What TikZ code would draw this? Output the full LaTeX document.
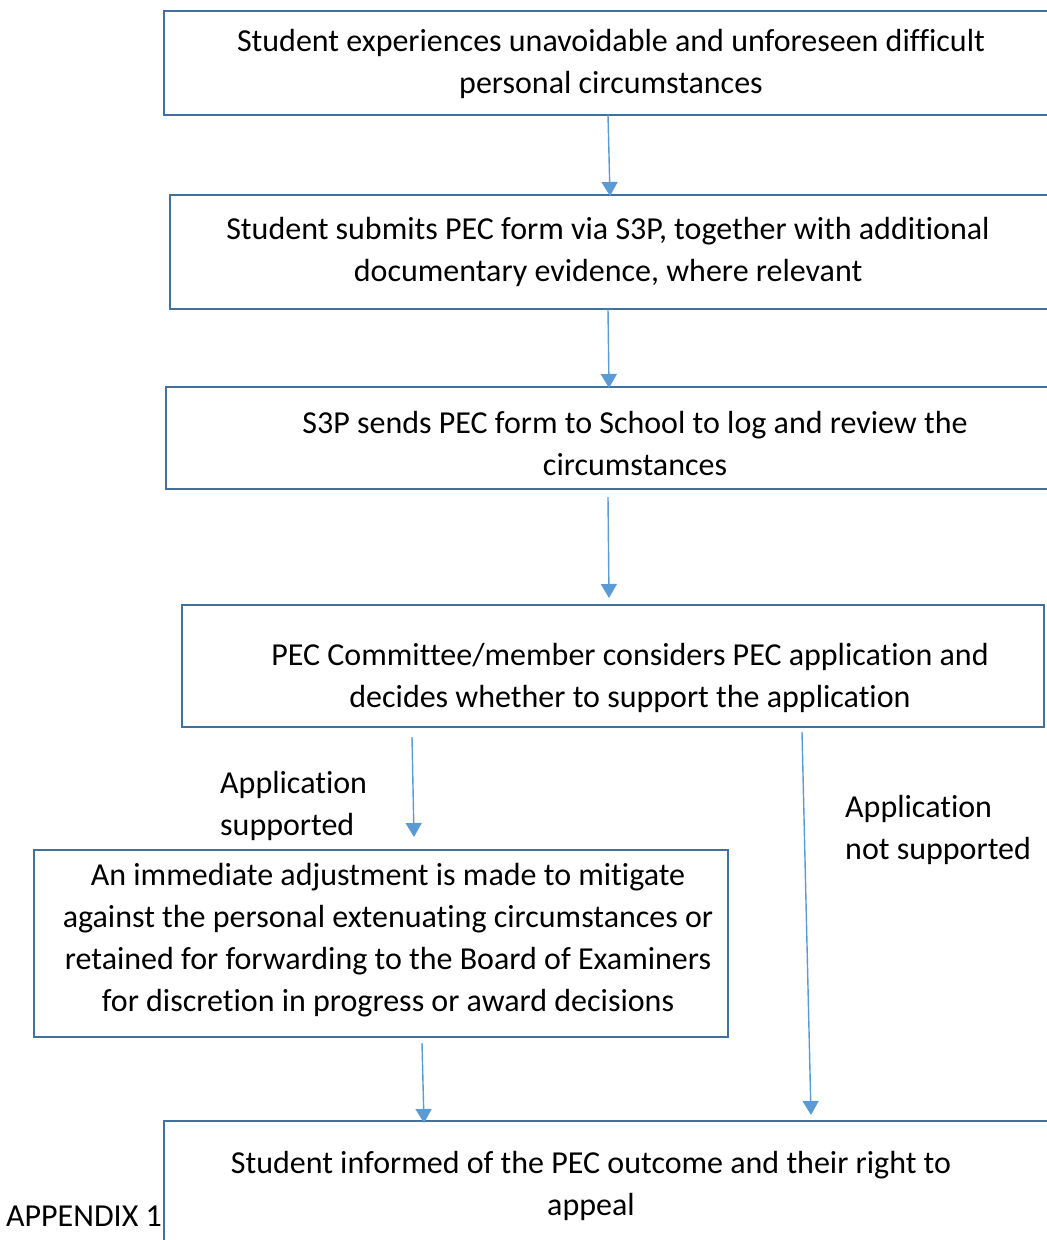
\documentclass[tikz,border=0pt]{standalone}
\usepackage{fontspec}
\setmainfont{Carlito}[Ligatures={NoCommon}]
\usetikzlibrary{arrows.meta}
\definecolor{boxblue}{HTML}{41719C}
\definecolor{arrblue}{HTML}{5B9BD5}
\begin{document}
\begin{tikzpicture}[x=1pt,y=-1pt,
  boxrect/.style={draw=boxblue,line width=2.8pt,fill=none},
  txt/.style={align=center,inner sep=0pt,font=\fontsize{32}{42}\selectfont},
  lbl/.style={align=left,inner sep=0pt,anchor=west,font=\fontsize{32}{42}\selectfont},
  flow/.style={draw=arrblue,line width=1.4pt,-{Triangle[width=16pt,length=14pt]}}]
\useasboundingbox (0,0) rectangle (1047,1240);
\clip (0,0) rectangle (1047,1240);
% boxes
\draw[boxrect] (164,11) rectangle (1060,115);
\draw[boxrect] (170,195) rectangle (1060,309);
\draw[boxrect] (166,387) rectangle (1060,489);
\draw[boxrect] (182,605) rectangle (1044,727);
\draw[boxrect] (34,850) rectangle (728,1037);
\draw[boxrect] (164,1121) rectangle (1060,1260);
% texts
\node[txt] (t1) at (611,64) {Student experiences unavoidable and unforeseen difficult\\personal circumstances};
\node[txt] (t2) at (608,252) {Student submits PEC form via S3P, together with additional\\documentary evidence, where relevant};
\node[txt] (t3) at (635,443) {S3P sends PEC form to School to log and review the\\circumstances};
\node[txt] (t4) at (630,678) {PEC Committee/member considers PEC application and\\decides whether to support the application};
\node[txt] (t5) at (388,940) {An immediate adjustment is made to mitigate\\against the personal extenuating circumstances or\\retained for forwarding to the Board of Examiners\\for discretion in progress or award decisions};
\node[txt] (t6) at (591,1186) {Student informed of the PEC outcome and their right to\\appeal};
\node[lbl] (l1) at (220,806) {Application\\supported};
\node[lbl] (l2) at (845,830) {Application\\not supported};
\node[lbl,anchor=east] (app) at (162,1216) {APPENDIX 1};
% connector endpoints
\coordinate (a1s) at (608,115); \coordinate (a1e) at (610,196);
\coordinate (a2s) at (608,309); \coordinate (a2e) at (609,388);
\coordinate (a3s) at (608,497); \coordinate (a3e) at (609,598);
\coordinate (a4s) at (412,737); \coordinate (a4e) at (414,837);
\coordinate (a5s) at (802,732); \coordinate (a5e) at (811,1115);
\coordinate (a6s) at (422,1043); \coordinate (a6e) at (424,1123);
\draw[flow] (a1s) -- (a1e);
\draw[flow] (a2s) -- (a2e);
\draw[flow] (a3s) -- (a3e);
\draw[flow] (a4s) -- (a4e);
\draw[flow] (a5s) -- (a5e);
\draw[flow] (a6s) -- (a6e);
\end{tikzpicture}
\end{document}
